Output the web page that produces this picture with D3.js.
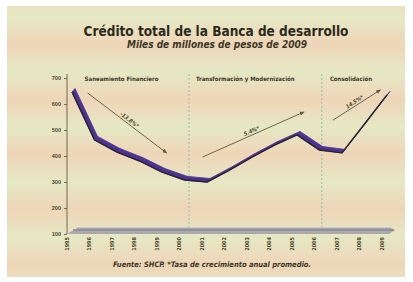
<!DOCTYPE html>
<html>
<head>
<meta charset="utf-8">
<script src="https://cdn.jsdelivr.net/npm/d3@7"></script>
<style>
  body { margin: 0; background: #fff; }
  svg { display: block; font-family: "DejaVu Sans Condensed", "DejaVu Sans", sans-serif; }
</style>
</head>
<body>
<svg id="chart" width="413" height="282"></svg>
<script>
// data
var years = [1995, 1996, 1997, 1998, 1999, 2000, 2001, 2002, 2003, 2004, 2005, 2006, 2007, 2008, 2009];
var credito = [646, 462, 415, 381, 338, 308, 300, 346, 396, 442, 481, 423, 412, 523, 635];
var yTicks = [100, 200, 300, 400, 500, 600, 700];
var periodos = ["Saneamiento Financiero", "Transformación y Modernización", "Consolidación"];
var periodoCentro = [1997.2, 2002.7, 2007.4];
var cortes = [2000.2, 2006.1];
var flechas = [
  {x0: 1995.7, y0: 642, x1: 1999.2, y1: 412, txt: "-13.8%*"},
  {x0: 2000.8, y0: 396, x1: 2005.3, y1: 569, txt: "5.4%*"},
  {x0: 2006.6, y0: 538, x1: 2008.7, y1: 654, txt: "14.5%*"}
];

var svg = d3.select("#chart");
var defs = svg.append("defs");

// striped background
var grad = defs.append("linearGradient")
    .attr("id", "bandas")
    .attr("gradientUnits", "userSpaceOnUse")
    .attr("x1", 0).attr("x2", 0)
    .attr("y1", 17).attr("y2", 72)
    .attr("spreadMethod", "repeat");
grad.append("stop").attr("offset", 0).attr("stop-color", "#e5e8c4");
grad.append("stop").attr("offset", 0.5).attr("stop-color", "#efd5b8");
grad.append("stop").attr("offset", 1).attr("stop-color", "#e5e8c4");

defs.append("marker")
    .attr("id", "punta")
    .attr("viewBox", "0 0 10 10")
    .attr("refX", 8).attr("refY", 5)
    .attr("markerWidth", 5).attr("markerHeight", 5)
    .attr("orient", "auto")
  .append("path")
    .attr("d", "M0,1L10,5L0,9z")
    .attr("fill", "#5e5a3c");

svg.append("rect")
    .attr("x", 7).attr("y", 6)
    .attr("width", 398).attr("height", 271)
    .attr("fill", "url(#bandas)");

// scales
var x = d3.scaleLinear().domain([1995, 2009]).range([72, 387]);
var y = d3.scaleLinear().domain([100, 700]).range([234, 78]);

// titles
svg.append("text")
    .attr("x", 216).attr("y", 36)
    .attr("text-anchor", "middle")
    .style("font-size", "13.5px")
    .style("font-weight", "bold")
    .attr("fill", "#2b2a1c")
    .text("Crédito total de la Banca de desarrollo");

svg.append("text")
    .attr("x", 217).attr("y", 48)
    .attr("text-anchor", "middle")
    .style("font-size", "10px")
    .style("font-style", "italic")
    .style("font-weight", "bold")
    .attr("fill", "#3a3826")
    .text("Miles de millones de pesos de 2009");

// period separators
svg.selectAll(".corte")
  .data(cortes)
  .enter().append("line")
    .attr("x1", function(d) { return x(d); })
    .attr("x2", function(d) { return x(d); })
    .attr("y1", 74).attr("y2", y(100) - 4)
    .attr("stroke", "#9fc6a4")
    .attr("stroke-width", 1.2)
    .attr("stroke-dasharray", "2,2");

svg.selectAll(".periodo")
  .data(periodos)
  .enter().append("text")
    .attr("x", function(d, i) { return x(periodoCentro[i]); })
    .attr("y", 81)
    .attr("text-anchor", "middle")
    .style("font-size", "6px")
    .style("font-weight", "bold")
    .attr("fill", "#3a3826")
    .text(function(d) { return d; });

// y axis
var yAxis = svg.append("g")
    .attr("transform", "translate(67,0)")
    .call(d3.axisLeft(y).tickValues(yTicks).tickSize(3).tickPadding(3));
yAxis.select(".domain")
    .attr("d", "M0," + (y(700) - 4) + "V" + y(100))
    .attr("stroke", "#6e6b4c");
yAxis.selectAll(".tick line").attr("stroke", "#6e6b4c");
yAxis.selectAll(".tick text")
    .attr("fill", "#4a4830")
    .style("font-size", "5.5px")
    .style("font-weight", "bold");

// grey floor (x axis)
var xa = x.range()[0] - 5, xb = x.range()[1] + 6, yb = y(100);
svg.append("path")
    .attr("d", "M" + xa + "," + yb + "L" + (xa + 12) + "," + (yb - 7) +
               "L" + (xb - 4) + "," + (yb - 7) + "L" + (xb + 2) + "," + (yb - 4) +
               "L" + (xb - 4) + "," + yb + "Z")
    .attr("fill", "#a9a8ac");
svg.append("path")
    .attr("d", "M" + (xa + 6) + "," + (yb - 4) + "L" + (xb + 1) + "," + (yb - 4))
    .attr("stroke", "#8a8890")
    .attr("stroke-width", 1.5);
svg.append("path")
    .attr("d", "M" + (xa + 12) + "," + (yb - 6.5) + "L" + (xb - 4) + "," + (yb - 6.5))
    .attr("stroke", "#c9c8cc")
    .attr("stroke-width", 1);

// year labels
svg.selectAll(".anio")
  .data(years)
  .enter().append("text")
    .attr("transform", function(d) { return "translate(" + (x(d) - 5) + "," + (yb + 3) + ") rotate(-90)"; })
    .attr("dy", "0.35em")
    .attr("text-anchor", "end")
    .style("font-size", "5.5px")
    .style("font-weight", "bold")
    .attr("fill", "#4c4a2c")
    .text(function(d) { return d; });

// arrows
svg.selectAll(".flecha")
  .data(flechas)
  .enter().append("line")
    .attr("x1", function(d) { return x(d.x0); })
    .attr("y1", function(d) { return y(d.y0); })
    .attr("x2", function(d) { return x(d.x1); })
    .attr("y2", function(d) { return y(d.y1); })
    .attr("stroke", "#6b6748")
    .attr("stroke-width", 1)
    .attr("marker-end", "url(#punta)");

svg.selectAll(".tasa")
  .data(flechas)
  .enter().append("text")
    .attr("transform", function(d) {
      var ax = x(d.x0), ay = y(d.y0), bx = x(d.x1), by = y(d.y1);
      var ang = Math.atan2(by - ay, bx - ax) * 180 / Math.PI;
      return "translate(" + ((ax + bx) / 2) + "," + ((ay + by) / 2) + ") rotate(" + ang + ")";
    })
    .attr("y", -2)
    .attr("text-anchor", "middle")
    .style("font-size", "5.5px")
    .style("font-style", "italic")
    .style("font-weight", "bold")
    .attr("fill", "#4c4a2c")
    .text(function(d) { return d.txt; });

// ribbon line: each segment is a slanted band, so falling parts look thick
var serie = years.map(function(d, i) { return [x(d), y(credito[i])]; });
var ox = 3, oy = -3.5;
var tramos = d3.pairs(serie).map(function(p) {
  return [p[0], p[1], [p[1][0] + ox, p[1][1] + oy], [p[0][0] + ox, p[0][1] + oy]];
});
svg.selectAll(".tramo")
  .data(tramos)
  .enter().append("path")
    .attr("d", function(d) { return d3.line()(d) + "Z"; })
    .attr("fill", "#4d3391")
    .attr("stroke", "#4d3391")
    .attr("stroke-width", 0.8)
    .attr("stroke-linejoin", "round");

svg.append("path")
    .datum(serie)
    .attr("fill", "none")
    .attr("stroke", "#27222e")
    .attr("stroke-width", 1.5)
    .attr("stroke-linejoin", "round")
    .attr("d", d3.line());

// source
svg.append("text")
    .attr("x", 212).attr("y", 267)
    .attr("text-anchor", "middle")
    .style("font-size", "7.5px")
    .style("font-style", "italic")
    .style("font-weight", "bold")
    .attr("fill", "#3a3826")
    .text("Fuente: SHCP. *Tasa de crecimiento anual promedio.");
</script>
</body>
</html>
